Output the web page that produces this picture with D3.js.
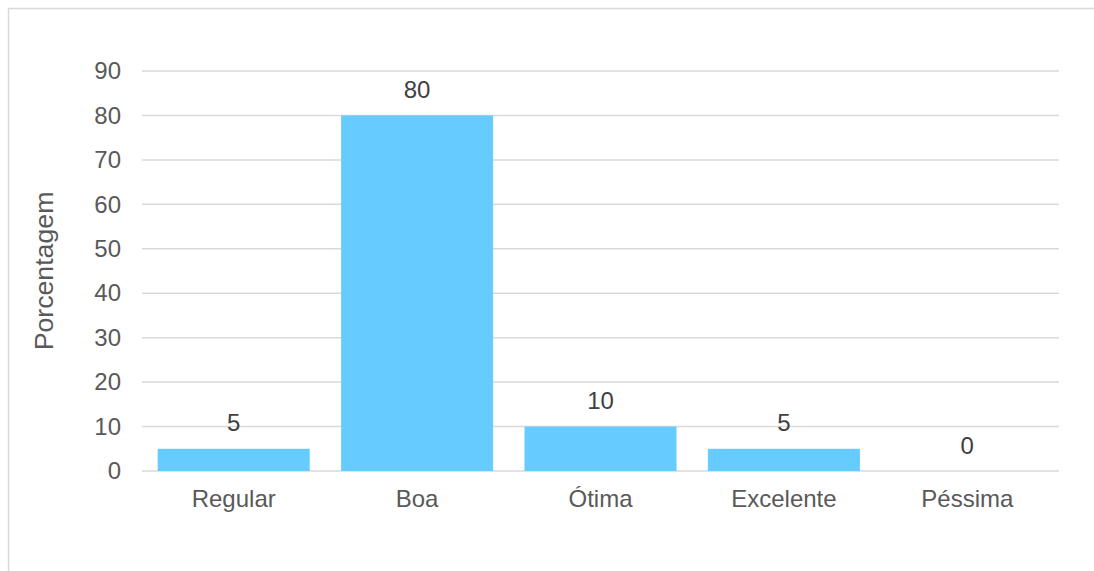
<!DOCTYPE html>
<html>
<head>
<meta charset="utf-8">
<script src="https://cdn.jsdelivr.net/npm/d3@7"></script>
<style>
  body { margin: 0; background: #fff; }
  text { font-family: "Liberation Sans", Arial, sans-serif; }
</style>
</head>
<body>
<div id="chart"></div>
<script>
// chart values
const categories = ['Regular', 'Boa', 'Ótima', 'Excelente', 'Péssima'];
const values = [5, 80, 10, 5, 0];
const yTicks = [0, 10, 20, 30, 40, 50, 60, 70, 80, 90];
const yTitle = 'Porcentagem';

const width = 1094, height = 571;
const margin = { top: 71, bottom: 100, left: 142, right: 35 };

const svg = d3.select('#chart').append('svg')
    .attr('width', width)
    .attr('height', height);

// outer chart border (runs off the right and bottom edge)
svg.append('rect')
    .attr('x', 8.5).attr('y', 8.5)
    .attr('width', 1200).attr('height', 700)
    .attr('fill', 'none')
    .attr('stroke', '#d9d9d9')
    .attr('stroke-width', 1.5);

const xScale = d3.scaleBand()
    .domain(categories)
    .range([margin.left, width - margin.right])
    .paddingInner(0.171)
    .paddingOuter(0.0855);

const yScale = d3.scaleLinear()
    .domain([0, 90])
    .range([height - margin.bottom, margin.top]);

// gridlines
svg.append('g')
    .selectAll('line')
    .data(yTicks)
    .join('line')
    .attr('x1', margin.left)
    .attr('x2', width - margin.right)
    .attr('y1', d => yScale(d))
    .attr('y2', d => yScale(d))
    .attr('stroke', '#d9d9d9')
    .attr('stroke-width', 1.5);

// y axis labels
const yAxis = d3.axisLeft(yScale).tickValues(yTicks).tickSize(0).tickPadding(21);
svg.append('g')
    .attr('transform', `translate(${margin.left},0)`)
    .call(yAxis)
    .call(g => g.select('.domain').remove())
    .selectAll('text')
    .attr('font-size', 24)
    .attr('fill', '#595959')
    .attr('font-family', '"Liberation Sans", Arial, sans-serif');

// bars
svg.append('g')
    .selectAll('rect')
    .data(values)
    .join('rect')
    .attr('x', (d, i) => xScale(categories[i]))
    .attr('y', d => yScale(d))
    .attr('width', xScale.bandwidth())
    .attr('height', d => yScale(0) - yScale(d))
    .attr('fill', '#66ccff');

// value labels
svg.append('g')
    .selectAll('text')
    .data(values)
    .join('text')
    .attr('x', (d, i) => xScale(categories[i]) + xScale.bandwidth() / 2)
    .attr('y', d => yScale(d) - 17.5)
    .attr('text-anchor', 'middle')
    .attr('font-size', 24)
    .attr('fill', '#404040')
    .text(d => d);

// x axis labels
const xAxis = d3.axisBottom(xScale).tickSize(0).tickPadding(0);
svg.append('g')
    .attr('transform', `translate(0,${yScale(0)})`)
    .call(xAxis)
    .call(g => g.select('.domain').remove())
    .selectAll('text')
    .attr('dy', null)
    .attr('y', 36)
    .attr('font-size', 24)
    .attr('fill', '#595959')
    .attr('font-family', '"Liberation Sans", Arial, sans-serif');

// y axis title
svg.append('text')
    .attr('transform', `translate(53,${(yScale(0) + yScale(90)) / 2}) rotate(-90)`)
    .attr('text-anchor', 'middle')
    .attr('font-size', 26.7)
    .attr('fill', '#595959')
    .text(yTitle);
</script>
</body>
</html>
